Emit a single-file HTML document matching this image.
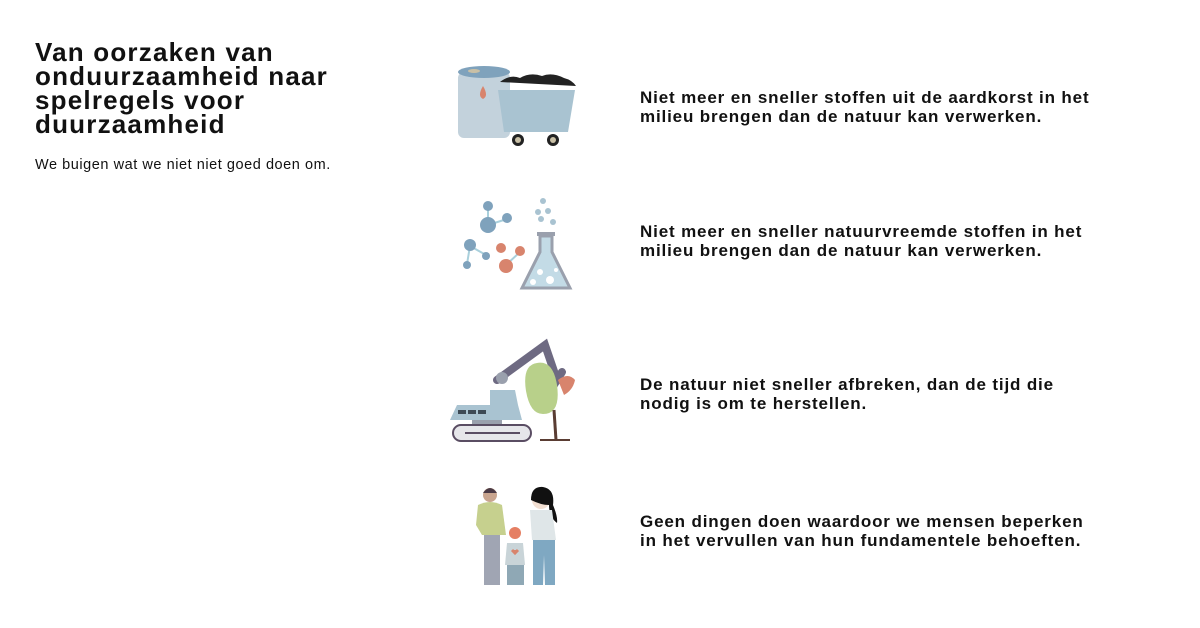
<!DOCTYPE html>
<html><head><meta charset="utf-8"><style>
body{margin:0;width:1200px;height:628px;background:#fff;position:relative;overflow:hidden;font-family:"Liberation Sans",sans-serif;color:#111}
h1{position:absolute;left:35px;top:40px;margin:0;font-size:26px;line-height:24px;font-weight:bold;letter-spacing:1.2px;width:330px}
.sub{position:absolute;left:35px;top:157px;font-size:14.5px;letter-spacing:0.55px}
.t{position:absolute;left:640px;font-size:17px;font-weight:bold;line-height:19px;letter-spacing:0.85px;white-space:nowrap}
svg{position:absolute;left:0;top:0}
</style></head><body>
<h1>Van oorzaken van onduurzaamheid naar spelregels voor duurzaamheid</h1>
<div class="sub">We buigen wat we niet niet goed doen om.</div>
<div class="t" style="top:88px">Niet meer en sneller stoffen uit de aardkorst in het<br>milieu brengen dan de natuur kan verwerken.</div>
<div class="t" style="top:222px">Niet meer en sneller natuurvreemde stoffen in het<br>milieu brengen dan de natuur kan verwerken.</div>
<div class="t" style="top:375px">De natuur niet sneller afbreken, dan de tijd die<br>nodig is om te herstellen.</div>
<div class="t" style="top:512px">Geen dingen doen waardoor we mensen beperken<br>in het vervullen van hun fundamentele behoeften.</div>
<svg width="1200" height="628">
<!-- barrel -->
<rect x="458" y="72" width="52" height="66" rx="6" fill="#c3d2dc"/>
<ellipse cx="484" cy="72" rx="26" ry="6" fill="#7fa2bc"/>
<ellipse cx="474" cy="71" rx="6" ry="2" fill="#c9c0a6"/>
<path d="M483 86 q-6 10 0 13 q6 -3 0 -13z" fill="#d8846d"/>
<!-- cart -->
<path d="M500 82 q10 -8 20 -4 q10 -6 22 -2 q10 -4 22 2 q8 2 12 8 z" fill="#222"/>
<path d="M498 90 L575 90 L568 132 L504 132 Z" fill="#a9c3d1"/>
<circle cx="518" cy="140" r="6" fill="#222"/><circle cx="518" cy="140" r="3" fill="#c9c0a6"/>
<circle cx="553" cy="140" r="6" fill="#222"/><circle cx="553" cy="140" r="3" fill="#c9c0a6"/>
<!-- molecules -->
<g stroke="#a9d0dc" stroke-width="2"><line x1="488" y1="210" x2="488" y2="225"/><line x1="488" y1="225" x2="507" y2="219"/><line x1="470" y1="246" x2="486" y2="255"/><line x1="470" y1="246" x2="467" y2="264"/><line x1="506" y1="265" x2="520" y2="252"/></g>
<circle cx="488" cy="206" r="5" fill="#7fa2bc"/><circle cx="488" cy="225" r="8" fill="#7fa2bc"/><circle cx="507" cy="218" r="5" fill="#7fa2bc"/>
<circle cx="470" cy="245" r="6" fill="#7fa2bc"/><circle cx="486" cy="256" r="4" fill="#7fa2bc"/><circle cx="467" cy="265" r="4" fill="#7fa2bc"/>
<circle cx="501" cy="248" r="5" fill="#d8846d"/><circle cx="506" cy="266" r="7" fill="#d8846d"/><circle cx="520" cy="251" r="5" fill="#d8846d"/>
<!-- flask -->
<circle cx="543" cy="201" r="3" fill="#a9c3d1"/><circle cx="538" cy="212" r="3" fill="#a9c3d1"/><circle cx="548" cy="211" r="3" fill="#a9c3d1"/><circle cx="541" cy="219" r="3" fill="#a9c3d1"/><circle cx="553" cy="222" r="3" fill="#a9c3d1"/>
<rect x="537" y="232" width="18" height="4" fill="#9aa0ad"/>
<path d="M540 236 L552 236 L552 252 L570 288 L522 288 L540 252 Z" fill="#c3dbe6" stroke="#9aa0ad" stroke-width="3"/>
<circle cx="540" cy="272" r="3" fill="#fff"/><circle cx="550" cy="280" r="4" fill="#fff"/><circle cx="533" cy="282" r="3" fill="#fff"/><circle cx="556" cy="270" r="2" fill="#fff"/>
<!-- excavator -->
<path d="M497 380 L545 345 L557 380 L562 372" stroke="#6e6a82" stroke-width="8" fill="none" stroke-linecap="round"/>
<circle cx="502" cy="378" r="6" fill="#9aa0ad"/>
<path d="M557 385 q-4 -25 -20 -22 q-15 2 -11 28 q4 23 17 23 q18 0 14 -29z" fill="#b8d08a"/>
<line x1="554" y1="410" x2="556" y2="440" stroke="#5a3d33" stroke-width="3"/>
<line x1="540" y1="440" x2="570" y2="440" stroke="#5a3d33" stroke-width="2"/>
<path d="M558 380 q10 -8 17 0 q-2 10 -11 15 z" fill="#d8846d"/>
<path d="M490 390 L515 390 L518 405 L522 420 L450 420 L457 405 L490 405 Z" fill="#a9c3d1"/>
<rect x="458" y="410" width="8" height="4" fill="#3d4a55"/><rect x="468" y="410" width="8" height="4" fill="#3d4a55"/><rect x="478" y="410" width="8" height="4" fill="#3d4a55"/>
<rect x="472" y="420" width="30" height="5" fill="#9aa0ad"/>
<rect x="453" y="425" width="78" height="16" rx="8" fill="#e6e6ea" stroke="#5a4d63" stroke-width="2"/>
<line x1="465" y1="433" x2="520" y2="433" stroke="#5a4d63" stroke-width="2"/>
<!-- family -->
<circle cx="490" cy="495" r="7" fill="#c9a58f"/><path d="M483 493 q7 -10 14 0 z" fill="#4a3a45"/>
<path d="M478 505 q12 -6 24 0 l4 30 l-8 0 l0 0 l-16 0 l-6 -10 z" fill="#c6d08e"/>
<rect x="484" y="535" width="16" height="50" fill="#a0a5b3"/>
<circle cx="541" cy="500" r="9" fill="#f2dfd2"/><path d="M531 500 q0 -14 12 -13 q12 2 10 18 q5 12 4 18 q-8 -6 -8 -18 q-8 0 -18 -5z" fill="#111"/>
<path d="M530 510 l22 0 l4 30 l-24 0 z" fill="#dfe6e8"/>
<path d="M533 540 l22 0 l0 45 l-10 0 l-1 -30 l-1 30 l-10 0 z" fill="#7fa8c2"/>
<circle cx="515" cy="533" r="6" fill="#e57f63"/>
<path d="M507 543 l16 0 l2 22 l-20 0 z" fill="#c9d4d8"/>
<path d="M512 550 l3 3 l3 -3" fill="#d8846d" stroke="#d8846d" stroke-width="3"/>
<rect x="507" y="565" width="17" height="20" fill="#8fa8b5"/>
</svg>
</body></html>
